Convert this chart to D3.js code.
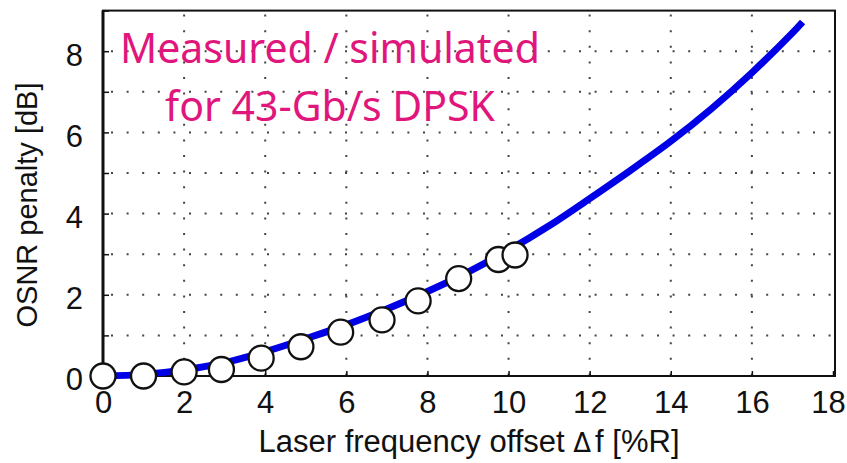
<!DOCTYPE html>
<html>
<head>
<meta charset="utf-8">
<script src="https://cdn.jsdelivr.net/npm/d3@7"></script>
<style>
  body { margin: 0; background: #fff; }
  svg { display: block; }
  .tick text { font-family: "Liberation Sans", Arial, sans-serif; font-size: 31px; fill: #111; }
  .tick line { stroke: #111; stroke-width: 1.5; }
</style>
</head>
<body>
<div id="chart"></div>
<script>
// simulated curve
const simX = [0, 1, 2, 3, 4, 5, 6, 7, 8, 9, 10, 11, 12, 13, 14, 15, 16, 17, 17.25];
const simY = [0, 0.04, 0.15, 0.33, 0.6, 0.92, 1.26, 1.65, 2.08, 2.56, 3.1, 3.7, 4.37, 5.06, 5.78, 6.58, 7.47, 8.45, 8.72];

// measured points
const measX = [0, 1, 2, 2.92, 3.9, 4.88, 5.86, 6.88, 7.77, 8.77, 9.75, 10.16];
const measY = [0, 0, 0.1, 0.16, 0.44, 0.72, 1.08, 1.38, 1.85, 2.4, 2.87, 2.98];

const xTicks = [0, 2, 4, 6, 8, 10, 12, 14, 16, 18];
const yTicks = [0, 2, 4, 6, 8];
const yGrid = [1, 2, 3, 4, 5, 6, 7, 8];
const xGrid = [2, 4, 6, 8, 10, 12, 14, 16];

const width = 847, height = 463;
const svg = d3.select('#chart').append('svg').attr('width', width).attr('height', height);

const x = d3.scaleLinear().domain([0, 18]).range([103, 833]);
const y = d3.scaleLinear().domain([0, 9]).range([376, 10.6]);

// dotted grid
const grid = svg.append('g').attr('stroke', '#444').attr('stroke-width', 2).attr('stroke-dasharray', '2,13.6');
grid.selectAll('line.h').data(yGrid).join('line').attr('class', 'h')
  .attr('x1', x(0) + 8).attr('x2', x(18)).attr('y1', d => y(d)).attr('y2', d => y(d));
grid.selectAll('line.v').data(xGrid).join('line').attr('class', 'v')
  .attr('x1', d => x(d)).attr('x2', d => x(d)).attr('y1', y(9) + 4).attr('y2', y(0));

// axes
const xAxis = d3.axisBottom(x).tickValues(xTicks).tickSize(-5).tickPadding(15).tickFormat(d3.format('d'));
const yAxis = d3.axisLeft(y).tickValues(d3.range(0, 10)).tickSize(-6).tickPadding(20)
  .tickFormat(d => yTicks.includes(d) ? d : '');
svg.append('g').attr('transform', `translate(0,${y(0)})`).call(xAxis)
  .call(g => g.select('.domain').remove())
  .call(g => g.selectAll('.tick').filter(d => d === 18).select('text').attr('dx', -5));
svg.append('g').attr('transform', `translate(${x(0)},0)`).call(yAxis).call(g => g.select('.domain').remove())
  .selectAll('text').attr('dy', '0.45em');

// frame
svg.append('rect').attr('x', x(0)).attr('y', y(9)).attr('width', x(18) - x(0) + 2).attr('height', y(0) - y(9))
  .attr('fill', 'none').attr('stroke', '#111').attr('stroke-width', 2);
svg.append('line').attr('x1', x(0)).attr('x2', x(0)).attr('y1', y(9)).attr('y2', y(0))
  .attr('stroke', '#111').attr('stroke-width', 3);

// simulated line
const line = d3.line().x(d => x(d[0])).y(d => y(d[1])).curve(d3.curveCatmullRom);
svg.append('path').datum(d3.zip(simX, simY)).attr('d', line)
  .attr('fill', 'none').attr('stroke', '#0000e6').attr('stroke-width', 7).attr('stroke-linecap', 'butt');

// measured markers
svg.append('g').selectAll('circle').data(d3.zip(measX, measY)).join('circle')
  .attr('cx', d => x(d[0])).attr('cy', d => y(d[1])).attr('r', 12.5)
  .attr('fill', '#fff').attr('stroke', '#111').attr('stroke-width', 2.3);

// annotation
const note = svg.append('text').attr('text-anchor', 'middle')
  .attr('font-family', '"Noto Sans", "Open Sans", sans-serif').attr('font-size', 41).attr('fill', '#e0167c');
note.append('tspan').attr('x', 330).attr('y', 63).text('Measured / simulated');
note.append('tspan').attr('x', 330).attr('y', 121).text('for 43-Gb/s DPSK');

// axis titles
const xTitle = svg.append('text').attr('x', 469).attr('y', 452).attr('text-anchor', 'middle')
  .attr('font-family', '"Liberation Sans", Arial, sans-serif').attr('font-size', 31).attr('fill', '#111');
xTitle.append('tspan').text('Laser frequency offset ');
xTitle.append('tspan').attr('font-size', 26).attr('font-family', '"DejaVu Sans", sans-serif').text('\u0394');
xTitle.append('tspan').attr('dx', 4).text('f [%R]');
svg.append('text').attr('transform', 'translate(37,205) rotate(-90)').attr('text-anchor', 'middle')
  .attr('font-family', '"Liberation Sans", Arial, sans-serif').attr('font-size', 29).attr('fill', '#111')
  .text('OSNR penalty [dB]');
</script>
</body>
</html>
